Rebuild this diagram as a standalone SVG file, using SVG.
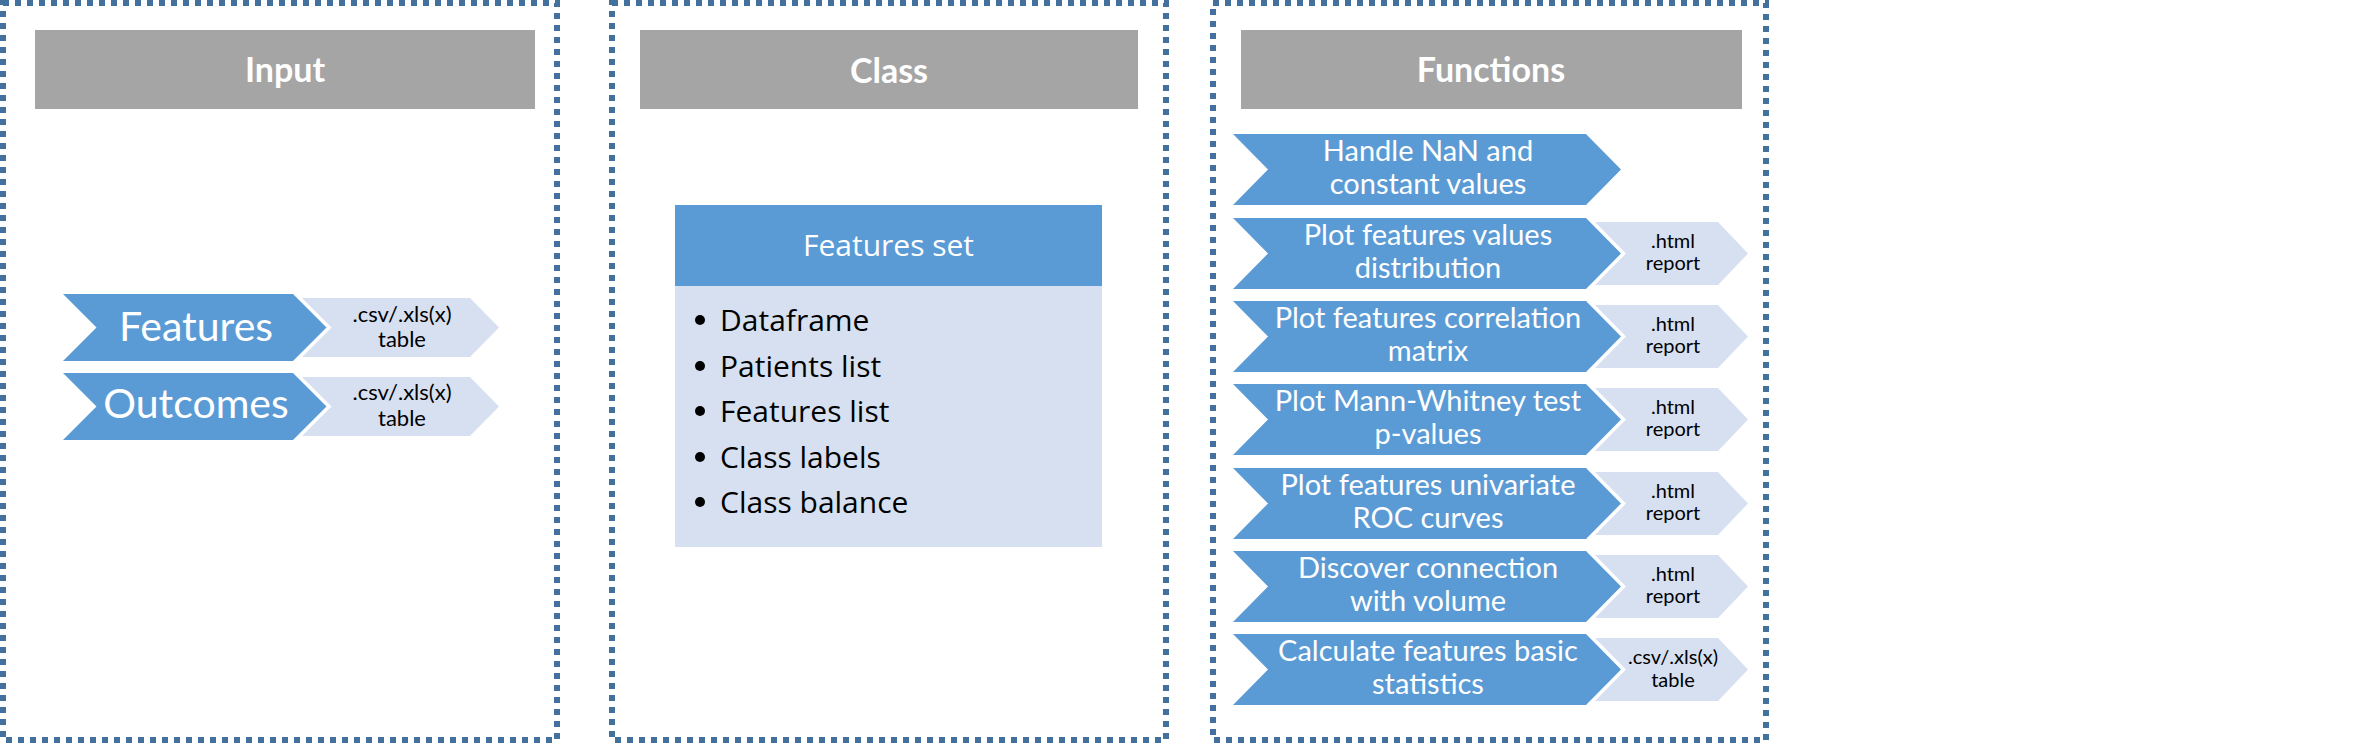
<svg xmlns="http://www.w3.org/2000/svg" width="2366" height="743" viewBox="0 0 2366 743">
<style>
.frame{fill:none;stroke:#41719C;stroke-width:6;stroke-dasharray:6 6}
.hdr{fill:#A5A5A5}
.hdrt{font-family:Lato,"Liberation Sans",sans-serif;font-weight:bold;font-size:34px;fill:#FFFFFF;text-anchor:middle}
.main{fill:#5B9BD5}
.light{fill:#D7E0F1}
.mt{font-family:Lato,"Liberation Sans",sans-serif;font-size:29px;fill:#FFFFFF;text-anchor:middle}
.big{font-family:Lato,"Liberation Sans",sans-serif;font-size:41px;fill:#FFFFFF;text-anchor:middle}
.ft{font-family:Lato,"Liberation Sans",sans-serif;font-size:20px;fill:#000000;text-anchor:middle}
.ft2{font-family:Lato,"Liberation Sans",sans-serif;font-size:22px;fill:#000000;text-anchor:middle}
.seg{font-family:"Open Sans","Liberation Sans",sans-serif;font-size:30px}
</style>
<rect width="2366" height="743" fill="#FFFFFF"/>

<g id="input-panel">
<rect class="frame" x="3" y="3" width="554" height="737"/>
<rect class="hdr" x="35" y="30" width="500" height="79"/>
<text class="hdrt" x="285" y="82">Input</text>
</g>
<g id="input-features">
<polygon class="light" points="302,298 470,298 499,327.5 470,357 302,357 331.5,327.5"/>
<polygon class="main" points="63,294 293,294 326.5,327.5 293,361 63,361 96.5,327.5"/>
<text class="big" x="196" y="341">Features</text>
<text class="ft2" x="402" y="322">.csv/.xls(x)</text>
<text class="ft2" x="402" y="347">table</text>
</g>
<g id="input-outcomes">
<polygon class="light" points="302,377 470,377 499,406.5 470,436 302,436 331.5,406.5"/>
<polygon class="main" points="63,373 293,373 326.5,406.5 293,440 63,440 96.5,406.5"/>
<text class="big" x="196" y="418">Outcomes</text>
<text class="ft2" x="402" y="400">.csv/.xls(x)</text>
<text class="ft2" x="402" y="426">table</text>
</g>

<g id="class-panel">
<rect class="frame" x="612" y="3" width="554" height="737"/>
<rect class="hdr" x="640" y="30" width="498" height="79"/>
<text class="hdrt" x="889" y="83">Class</text>
</g>
<g id="features-set">
<rect x="675" y="205" width="427" height="81" fill="#5B9BD5"/>
<rect x="675" y="286" width="427" height="261" fill="#D7E0F1"/>
<text class="seg" x="888.5" y="256" fill="#FFFFFF" text-anchor="middle">Features set</text>
<g fill="#000000">
<circle cx="700" cy="320" r="5"/>
<circle cx="700" cy="366" r="5"/>
<circle cx="700" cy="411" r="5"/>
<circle cx="700" cy="457" r="5"/>
<circle cx="700" cy="502" r="5"/>
</g>
<text class="seg" x="720" y="331" fill="#000000">Dataframe</text>
<text class="seg" x="720" y="377" fill="#000000">Patients list</text>
<text class="seg" x="720" y="422" fill="#000000">Features list</text>
<text class="seg" x="720" y="468" fill="#000000">Class labels</text>
<text class="seg" x="720" y="513" fill="#000000">Class balance</text>
</g>

<g id="functions-panel">
<rect class="frame" x="1213" y="3" width="553" height="737"/>
<rect class="hdr" x="1241" y="30" width="501" height="79"/>
<text class="hdrt" x="1491" y="82">Functions</text>
</g>

<g id="fn-handle-nan">
<polygon class="main" points="1233,134 1586,134 1621,169.5 1586,205 1233,205 1268,169.5"/>
<text class="mt" x="1428" y="161">Handle NaN and</text>
<text class="mt" x="1428" y="194">constant values</text>
</g>
<g id="fn-distribution">
<polygon class="light" points="1595,222 1718,222 1748,253.5 1718,285 1595,285 1626,253.5"/>
<polygon class="main" points="1233,218 1586,218 1621,253.5 1586,289 1233,289 1268,253.5"/>
<text class="mt" x="1428" y="245">Plot features values</text>
<text class="mt" x="1428" y="278">distribution</text>
<text class="ft" x="1673" y="247.5">.html</text>
<text class="ft" x="1673" y="269.5">report</text>
</g>
<g id="fn-correlation">
<polygon class="light" points="1595,305 1718,305 1748,336.5 1718,368 1595,368 1626,336.5"/>
<polygon class="main" points="1233,301 1586,301 1621,336.5 1586,372 1233,372 1268,336.5"/>
<text class="mt" x="1428" y="328">Plot features correlation</text>
<text class="mt" x="1428" y="361">matrix</text>
<text class="ft" x="1673" y="330.5">.html</text>
<text class="ft" x="1673" y="352.5">report</text>
</g>
<g id="fn-mann-whitney">
<polygon class="light" points="1595,388 1718,388 1748,419.5 1718,451 1595,451 1626,419.5"/>
<polygon class="main" points="1233,384 1586,384 1621,419.5 1586,455 1233,455 1268,419.5"/>
<text class="mt" x="1428" y="411">Plot Mann-Whitney test</text>
<text class="mt" x="1428" y="444">p-values</text>
<text class="ft" x="1673" y="413.5">.html</text>
<text class="ft" x="1673" y="435.5">report</text>
</g>
<g id="fn-roc">
<polygon class="light" points="1595,472 1718,472 1748,503.5 1718,535 1595,535 1626,503.5"/>
<polygon class="main" points="1233,468 1586,468 1621,503.5 1586,539 1233,539 1268,503.5"/>
<text class="mt" x="1428" y="495">Plot features univariate</text>
<text class="mt" x="1428" y="528">ROC curves</text>
<text class="ft" x="1673" y="497.5">.html</text>
<text class="ft" x="1673" y="519.5">report</text>
</g>
<g id="fn-volume">
<polygon class="light" points="1595,555 1718,555 1748,586.5 1718,618 1595,618 1626,586.5"/>
<polygon class="main" points="1233,551 1586,551 1621,586.5 1586,622 1233,622 1268,586.5"/>
<text class="mt" x="1428" y="578">Discover connection</text>
<text class="mt" x="1428" y="611">with volume</text>
<text class="ft" x="1673" y="580.5">.html</text>
<text class="ft" x="1673" y="602.5">report</text>
</g>
<g id="fn-statistics">
<polygon class="light" points="1595,638 1718,638 1748,669.5 1718,701 1595,701 1626,669.5"/>
<polygon class="main" points="1233,634 1586,634 1621,669.5 1586,705 1233,705 1268,669.5"/>
<text class="mt" x="1428" y="661">Calculate features basic</text>
<text class="mt" x="1428" y="694">statistics</text>
<text class="ft" x="1673" y="664">.csv/.xls(x)</text>
<text class="ft" x="1673" y="687">table</text>
</g>

<g id="connectors"></g>
</svg>
